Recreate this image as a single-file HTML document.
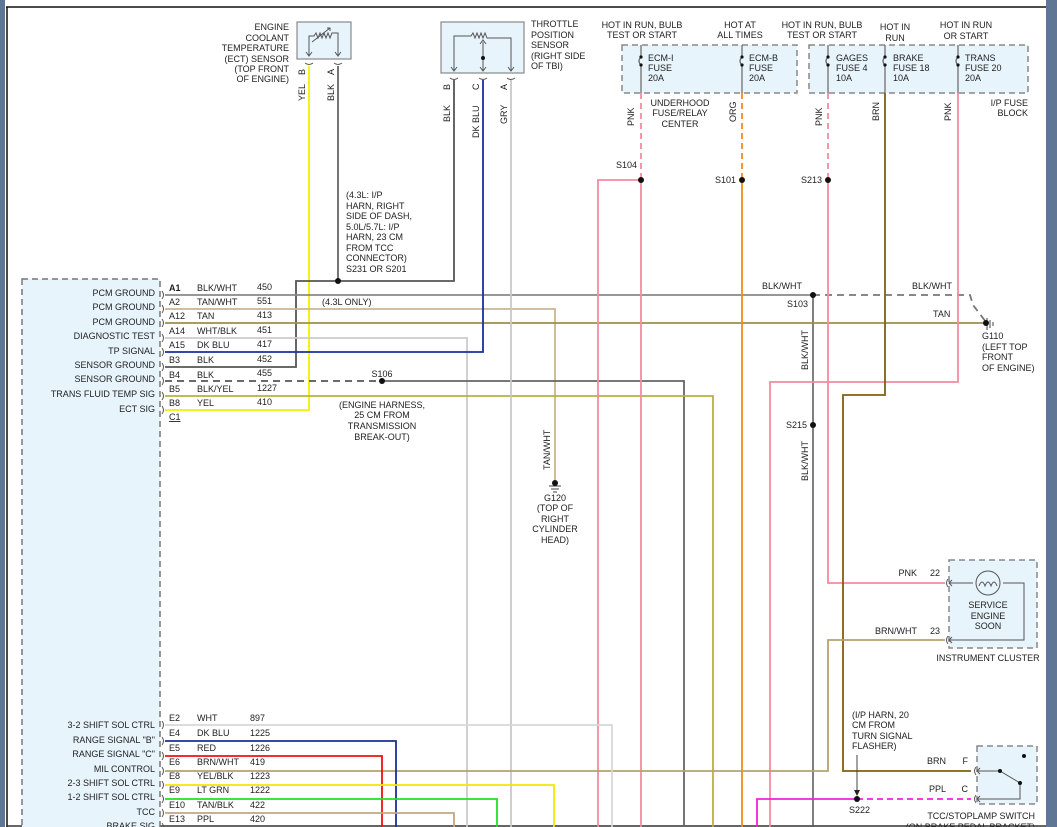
<!DOCTYPE html>
<html><head><meta charset="utf-8"><style>
html,body{margin:0;padding:0;background:#fff;}
svg{display:block;font-family:"Liberation Sans",Arial,sans-serif;}
text{font-size:9px;fill:#222;}
</style></head><body>
<svg width="1057" height="827" viewBox="0 0 1057 827" xmlns="http://www.w3.org/2000/svg">
<rect x="0" y="0" width="1057" height="827" fill="#fff"/>
<rect x="0" y="0" width="5" height="827" fill="#5f7695"/>
<rect x="1046" y="0" width="11" height="827" fill="#5f7695"/>
<line x1="6" y1="7" x2="1046" y2="7" stroke="#111" stroke-width="1.5"/>
<line x1="7" y1="7" x2="7" y2="827" stroke="#111" stroke-width="1.5"/>
<line x1="6" y1="826" x2="1046" y2="826" stroke="#333" stroke-width="1.5"/>

<!-- PCM box -->
<rect x="22" y="279" width="138" height="560" fill="#e8f4fc" stroke="#777" stroke-width="1.5" stroke-dasharray="6,4"/>

<!-- sensor boxes -->
<rect x="297" y="22" width="54" height="37" fill="#e8f4fc" stroke="#888" stroke-width="1.2"/>
<path d="M309,55 V36 H314 l2,-3 2,5 2,-5 2,5 2,-5 2,5 2,-5 2,5 2,-5 H338 V55" fill="none" stroke="#555" stroke-width="1"/>
<path d="M312,42 L330,28 M327,28 h3 v3" fill="none" stroke="#555" stroke-width="1"/>
<path d="M306,52 l3,4 3,-4 M335,52 l3,4 3,-4" fill="none" stroke="#555"/>
<rect x="441" y="22" width="83" height="51" fill="#e8f4fc" stroke="#888" stroke-width="1.2"/>
<path d="M454,70 V36 H471 l2,-3 2,5 2,-5 2,5 2,-5 2,5 2,-5 2,5 H511 V70" fill="none" stroke="#555" stroke-width="1"/>
<path d="M483,42 V70 M480,44 l3,-4 3,4 M451,67 l3,4 3,-4 M480,67 l3,4 3,-4 M508,67 l3,4 3,-4" fill="none" stroke="#555"/>
<circle cx="483" cy="58" r="2" fill="#111"/>
<path d="M305,63 q4,3 8,0 M334,63 q4,3 8,0 M450,78 q4,3 8,0 M479,78 q4,3 8,0 M507,78 q4,3 8,0" fill="none" stroke="#555"/>

<!-- fuse boxes -->
<rect x="622" y="45" width="175" height="48" fill="#e8f4fc" stroke="#888" stroke-width="1.5" stroke-dasharray="6,4"/>
<rect x="809" y="45" width="219" height="48" fill="#e8f4fc" stroke="#888" stroke-width="1.5" stroke-dasharray="6,4"/>
<g fill="none" stroke="#666" stroke-width="1.2">
<path d="M641,45 V57 q-4,4 0,8 V93"/>
<path d="M742,45 V57 q-4,4 0,8 V93"/>
<path d="M828,45 V57 q-4,4 0,8 V93"/>
<path d="M885,45 V57 q-4,4 0,8 V93"/>
<path d="M958,45 V57 q-4,4 0,8 V93"/>
</g>
<g fill="#111"><circle cx="641" cy="57" r="1.6"/><circle cx="641" cy="65" r="1.6"/><circle cx="742" cy="57" r="1.6"/><circle cx="742" cy="65" r="1.6"/><circle cx="828" cy="57" r="1.6"/><circle cx="828" cy="65" r="1.6"/><circle cx="885" cy="57" r="1.6"/><circle cx="885" cy="65" r="1.6"/><circle cx="958" cy="57" r="1.6"/><circle cx="958" cy="65" r="1.6"/></g>

<!-- instrument cluster -->
<rect x="949" y="560" width="88" height="88" fill="#e8f4fc" stroke="#888" stroke-width="1.5" stroke-dasharray="6,4"/>
<circle cx="988" cy="583" r="12" fill="none" stroke="#555"/>
<path d="M949,583 H973 M1003,583 H1024 V640 H949 M952,580 l-3,3 3,3 M952,637 l-3,3 3,3" fill="none" stroke="#555"/>
<path d="M979,586 q3,-8 6,0 q3,-8 6,0 q3,-8 6,0" fill="none" stroke="#555"/>
<!-- TCC switch -->
<rect x="977" y="746" width="60" height="58" fill="#e8f4fc" stroke="#888" stroke-width="1.5" stroke-dasharray="6,4"/>
<path d="M977,771 H1000 L1020,783 V799 H977 M980,768 l-3,3 3,3 M980,796 l-3,3 3,3" fill="none" stroke="#555"/>
<circle cx="1000" cy="771" r="2" fill="#111"/><circle cx="1020" cy="783" r="2" fill="#111"/><circle cx="1024" cy="756" r="2" fill="#111"/>

<!-- wires -->
<g fill="none" stroke-width="1.8">
<path d="M309,66 V410 H165" stroke="#f4f000"/>
<path d="M338,66 V281" stroke="#666"/>
<path d="M454,80 V281 H296 V367 H165" stroke="#555"/>
<path d="M165,295 H813" stroke="#888"/>
<path d="M813,295 H970 L973,305 986,322" stroke="#777" stroke-dasharray="7,5"/>
<path d="M813,295 V827" stroke="#555" stroke-width="1.5"/>
<path d="M165,309 H555 V480" stroke="#c8b890"/>
<path d="M165,323 H985" stroke="#a08c50"/>
<path d="M165,338 H467 V827" stroke="#ccc"/>
<path d="M165,352 H483 V80" stroke="#1a2f9a"/>
<path d="M165,381 H382" stroke="#555" stroke-dasharray="7,5"/>
<path d="M382,381 H684 V827" stroke="#666"/>
<path d="M165,396 H713 V827" stroke="#b8b040"/>
<path d="M511,80 V827" stroke="#c8c8c8"/>
<path d="M641,93 V180" stroke="#f48aa0" stroke-dasharray="6,4"/>
<path d="M641,180 V827 M641,180 H598 V827" stroke="#f48aa0"/>
<path d="M742,93 V180" stroke="#f08a20" stroke-dasharray="6,4"/>
<path d="M742,180 V827" stroke="#f08a20"/>
<path d="M828,93 V180" stroke="#f48aa0" stroke-dasharray="6,4"/>
<path d="M828,180 V583 H945" stroke="#f48aa0"/>
<path d="M958,93 V382 H770 V827" stroke="#f48aa0"/>
<path d="M885,93 V395 H843 V771 H971" stroke="#806010"/>
<path d="M165,771 H828 V640 H945" stroke="#b8a070"/>
<path d="M165,725 H612 V827" stroke="#d8d8d8"/>
<path d="M165,741 H396 V827" stroke="#1a2f9a"/>
<path d="M165,756 H382 V827" stroke="#f01010"/>
<path d="M165,785 H554 V827" stroke="#f4e800"/>
<path d="M165,799 H497 V827" stroke="#20e020"/>
<path d="M165,813 H454 V827" stroke="#c0a880"/>
<path d="M857,799 H971" stroke="#f020e0" stroke-dasharray="6,4"/>
<path d="M857,799 H757 V827" stroke="#f020e0"/>
<path d="M857,755 V792" stroke="#444" stroke-width="1"/>
</g>
<path d="M854,790 l3,6 3,-6z" fill="#222"/>
<!-- grounds -->
<path d="M987,318 V330 M990,320 V328 M993,322 V326" stroke="#444" stroke-width="1"/>
<path d="M549,486 H561 M551,489 H559 M553,492 H557" stroke="#444" stroke-width="1"/>
<!-- splices -->
<g fill="#111"><circle cx="338" cy="281" r="3"/><circle cx="382" cy="381" r="3"/><circle cx="813" cy="295" r="3"/><circle cx="813" cy="425" r="3"/><circle cx="641" cy="180" r="3"/><circle cx="742" cy="180" r="3"/><circle cx="828" cy="180" r="3"/><circle cx="857" cy="799" r="3"/><circle cx="986" cy="323" r="3"/><circle cx="555" cy="483" r="3"/></g>
<!-- connector glyphs -->
<g fill="none" stroke="#555" stroke-width="1">
<path d="M162,291 q3,4 0,8 M162,305 q3,4 0,8 M162,319 q3,4 0,8 M162,334 q3,4 0,8 M162,348 q3,4 0,8 M162,363 q3,4 0,8 M162,377 q3,4 0,8 M162,392 q3,4 0,8 M162,406 q3,4 0,8"/>
<path d="M162,721 q3,4 0,8 M162,737 q3,4 0,8 M162,752 q3,4 0,8 M162,767 q3,4 0,8 M162,781 q3,4 0,8 M162,795 q3,4 0,8 M162,809 q3,4 0,8 M162,823 q3,4 0,8"/>
<path d="M948,579 q-3,4 0,8 M948,636 q-3,4 0,8 M976,767 q-3,4 0,8 M976,795 q-3,4 0,8"/>
</g>

<!-- texts -->
<g text-anchor="end">
<text x="289" y="30">ENGINE</text><text x="289" y="41">COOLANT</text><text x="289" y="51">TEMPERATURE</text><text x="289" y="62">(ECT) SENSOR</text><text x="289" y="72">(TOP FRONT</text><text x="289" y="82">OF ENGINE)</text>
<text x="155" y="296">PCM GROUND</text><text x="155" y="310">PCM GROUND</text><text x="155" y="325">PCM GROUND</text><text x="155" y="339">DIAGNOSTIC TEST</text><text x="155" y="354">TP SIGNAL</text><text x="155" y="368">SENSOR GROUND</text><text x="155" y="382">SENSOR GROUND</text><text x="155" y="397">TRANS FLUID TEMP SIG</text><text x="155" y="412">ECT SIG</text>
<text x="155" y="728">3-2 SHIFT SOL CTRL</text><text x="155" y="743">RANGE SIGNAL "B"</text><text x="155" y="757">RANGE SIGNAL "C"</text><text x="155" y="772">MIL CONTROL</text><text x="155" y="786">2-3 SHIFT SOL CTRL</text><text x="155" y="800">1-2 SHIFT SOL CTRL</text><text x="155" y="815">TCC</text><text x="155" y="829">BRAKE SIG</text>
<text x="637" y="168">S104</text><text x="736" y="183">S101</text><text x="822" y="183">S213</text><text x="808" y="307">S103</text><text x="807" y="428">S215</text>
<text x="1028" y="106">I/P FUSE</text><text x="1028" y="116">BLOCK</text>
<text x="917" y="576">PNK</text><text x="940" y="576">22</text><text x="917" y="634">BRN/WHT</text><text x="940" y="634">23</text>
<text x="946" y="764">BRN</text><text x="968" y="764">F</text><text x="946" y="792">PPL</text><text x="968" y="792">C</text>
<text x="1035" y="819">TCC/STOPLAMP SWITCH</text><text x="1035" y="830">(ON BRAKE PEDAL BRACKET)</text>
</g>
<text x="531" y="27">THROTTLE</text><text x="531" y="38">POSITION</text><text x="531" y="48">SENSOR</text><text x="531" y="59">(RIGHT SIDE</text><text x="531" y="69">OF TBI)</text>
<g text-anchor="middle">
<text x="642" y="28">HOT IN RUN, BULB</text><text x="642" y="38">TEST OR START</text>
<text x="740" y="28">HOT AT</text><text x="740" y="38">ALL TIMES</text>
<text x="822" y="28">HOT IN RUN, BULB</text><text x="822" y="38">TEST OR START</text>
<text x="895" y="30">HOT IN</text><text x="895" y="41">RUN</text>
<text x="966" y="28">HOT IN RUN</text><text x="966" y="39">OR START</text>
<text x="680" y="106">UNDERHOOD</text><text x="680" y="116">FUSE/RELAY</text><text x="680" y="127">CENTER</text>
<text x="382" y="377">S106</text>
<text x="382" y="408">(ENGINE HARNESS,</text><text x="382" y="418">25 CM FROM</text><text x="382" y="429">TRANSMISSION</text><text x="382" y="440">BREAK-OUT)</text>
<text x="555" y="501">G120</text><text x="555" y="511">(TOP OF</text><text x="555" y="522">RIGHT</text><text x="555" y="532">CYLINDER</text><text x="555" y="543">HEAD)</text>
<text x="988" y="608">SERVICE</text><text x="988" y="619">ENGINE</text><text x="988" y="629">SOON</text>
<text x="988" y="661">INSTRUMENT CLUSTER</text>
</g>
<text x="346" y="198">(4.3L: I/P</text><text x="346" y="209">HARN, RIGHT</text><text x="346" y="219">SIDE OF DASH,</text><text x="346" y="230">5.0L/5.7L: I/P</text><text x="346" y="240">HARN, 23 CM</text><text x="346" y="251">FROM TCC</text><text x="346" y="261">CONNECTOR)</text><text x="346" y="272">S231 OR S201</text>
<text x="322" y="305">(4.3L ONLY)</text>
<text x="762" y="289">BLK/WHT</text><text x="912" y="289">BLK/WHT</text><text x="933" y="317">TAN</text>
<text x="982" y="339">G110</text><text x="982" y="350">(LEFT TOP</text><text x="982" y="360">FRONT</text><text x="982" y="371">OF ENGINE)</text>
<text x="852" y="718">(I/P HARN, 20</text><text x="852" y="728">CM FROM</text><text x="852" y="739">TURN SIGNAL</text><text x="852" y="749">FLASHER)</text>
<text x="849" y="813">S222</text>
<g><text x="648" y="61">ECM-I</text><text x="648" y="71">FUSE</text><text x="648" y="81">20A</text>
<text x="749" y="61">ECM-B</text><text x="749" y="71">FUSE</text><text x="749" y="81">20A</text>
<text x="836" y="61">GAGES</text><text x="836" y="71">FUSE 4</text><text x="836" y="81">10A</text>
<text x="893" y="61">BRAKE</text><text x="893" y="71">FUSE 18</text><text x="893" y="81">10A</text>
<text x="965" y="61">TRANS</text><text x="965" y="71">FUSE 20</text><text x="965" y="81">20A</text></g>
<!-- pin rows -->
<g>
<text x="169" y="291" font-weight="bold">A1</text><text x="197" y="291">BLK/WHT</text><text x="257" y="290">450</text>
<text x="169" y="305">A2</text><text x="197" y="305">TAN/WHT</text><text x="257" y="304">551</text>
<text x="169" y="319">A12</text><text x="197" y="319">TAN</text><text x="257" y="318">413</text>
<text x="169" y="334">A14</text><text x="197" y="334">WHT/BLK</text><text x="257" y="333">451</text>
<text x="169" y="348">A15</text><text x="197" y="348">DK BLU</text><text x="257" y="347">417</text>
<text x="169" y="363">B3</text><text x="197" y="363">BLK</text><text x="257" y="362">452</text>
<text x="169" y="378">B4</text><text x="197" y="378">BLK</text><text x="257" y="376">455</text>
<text x="169" y="392">B5</text><text x="197" y="392">BLK/YEL</text><text x="257" y="391">1227</text>
<text x="169" y="406">B8</text><text x="197" y="406">YEL</text><text x="257" y="405">410</text>
<text x="169" y="420" text-decoration="underline">C1</text>
<text x="169" y="721">E2</text><text x="197" y="721">WHT</text><text x="250" y="721">897</text>
<text x="169" y="736">E4</text><text x="197" y="736">DK BLU</text><text x="250" y="736">1225</text>
<text x="169" y="751">E5</text><text x="197" y="751">RED</text><text x="250" y="751">1226</text>
<text x="169" y="765">E6</text><text x="197" y="765">BRN/WHT</text><text x="250" y="765">419</text>
<text x="169" y="779">E8</text><text x="197" y="779">YEL/BLK</text><text x="250" y="779">1223</text>
<text x="169" y="793">E9</text><text x="197" y="793">LT GRN</text><text x="250" y="793">1222</text>
<text x="169" y="808">E10</text><text x="197" y="808">TAN/BLK</text><text x="250" y="808">422</text>
<text x="169" y="822">E13</text><text x="197" y="822">PPL</text><text x="250" y="822">420</text>
</g>
<!-- rotated labels -->
<g>
<text transform="translate(305,75) rotate(-90)">B</text><text transform="translate(334,75) rotate(-90)">A</text>
<text transform="translate(305,101) rotate(-90)">YEL</text><text transform="translate(334,101) rotate(-90)">BLK</text>
<text transform="translate(450,90) rotate(-90)">B</text><text transform="translate(479,90) rotate(-90)">C</text><text transform="translate(507,90) rotate(-90)">A</text>
<text transform="translate(450,122) rotate(-90)">BLK</text><text transform="translate(479,138) rotate(-90)">DK BLU</text><text transform="translate(507,124) rotate(-90)">GRY</text>
<text transform="translate(634,126) rotate(-90)">PNK</text><text transform="translate(736,122) rotate(-90)">ORG</text>
<text transform="translate(822,126) rotate(-90)">PNK</text><text transform="translate(879,121) rotate(-90)">BRN</text><text transform="translate(951,121) rotate(-90)">PNK</text>
<text transform="translate(808,370) rotate(-90)">BLK/WHT</text><text transform="translate(808,481) rotate(-90)">BLK/WHT</text>
<text transform="translate(550,470) rotate(-90)">TAN/WHT</text>
</g>
</svg>
</body></html>
